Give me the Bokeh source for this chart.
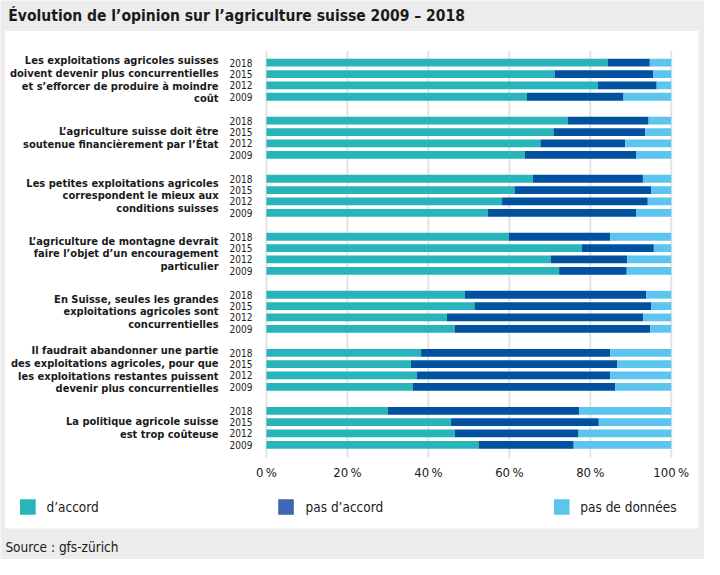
from bokeh.plotting import figure
from bokeh.models import ColumnDataSource, Range1d
from bokeh.core.properties import value
from bokeh.embed import file_html
from bokeh.resources import INLINE

# ---------------- data ----------------
title = "Évolution de l’opinion sur l’agriculture suisse 2009 – 2018"
source_note = "Source : gfs-zürich"
statements = [
    "Les exploitations agricoles suisses\ndoivent devenir plus concurrentielles\net s’efforcer de produire à moindre\ncoût",
    "L’agriculture suisse doit être\nsoutenue financièrement par l’État",
    "Les petites exploitations agricoles\ncorrespondent le mieux aux\nconditions suisses",
    "L’agriculture de montagne devrait\nfaire l’objet d’un encouragement\nparticulier",
    "En Suisse, seules les grandes\nexploitations agricoles sont\nconcurrentielles",
    "Il faudrait abandonner une partie\ndes exploitations agricoles, pour que\nles exploitations restantes puissent\ndevenir plus concurrentielles",
    "La politique agricole suisse\nest trop coûteuse",
]
years = ["2018", "2015", "2012", "2009"]
series = ["d’accord", "pas d’accord", "pas de données"]
# per statement, values for 2018, 2015, 2012, 2009 (%)
agree = [
    [84.3, 71.2, 81.9, 64.3],
    [74.4, 70.9, 67.7, 63.8],
    [65.8, 61.3, 58.2, 54.7],
    [59.9, 77.9, 70.2, 72.3],
    [49.0, 51.4, 44.6, 46.5],
    [38.2, 35.7, 37.2, 36.2],
    [30.0, 45.6, 46.5, 52.4],
]
disagree = [
    [10.4, 24.4, 14.5, 23.9],
    [20.0, 22.7, 20.9, 27.5],
    [27.2, 33.7, 36.0, 36.6],
    [25.0, 17.8, 18.9, 16.7],
    [44.8, 43.6, 48.5, 48.3],
    [46.7, 50.9, 47.7, 50.0],
    [47.3, 36.5, 30.6, 23.5],
]
nodata = [[round(100 - a - d, 1) for a, d in zip(ar, dr)] for ar, dr in zip(agree, disagree)]
ticks = [0, 20, 40, 60, 80, 100]
tick_labels = [f"{t}\u2009%" for t in ticks]

# ---------------- styles ----------------
bar_colors = ["#27b5bb", "#0051a0", "#5bc5f0"]
legend_colors = ["#27b5bb", "#3f68b2", "#5bc5f0"]
FONT = value("DejaVu Sans Condensed")
BG = "#ececec"

# layout in reference pixel space (720 x 575); x converted to percent units
PX_PER_PCT = 4.14
X0 = 272.0
def X(px):
    return (px - X0) / PX_PER_PCT

W, H = 704, 559
p = figure(width=W, height=H, output_backend="svg", toolbar_location=None,
           x_range=Range1d(X(0), X(720)), y_range=Range1d(575, 0),
           x_axis_location=None, y_axis_location=None, min_border=0)
p.outline_line_color = None
p.grid.visible = False
p.background_fill_color = BG
p.border_fill_color = BG

# white panel
p.quad(left=[X(5)], right=[X(714)], top=[31.5], bottom=[543], fill_color="white", line_color=None)

# gridlines
p.segment(x0=ticks, x1=ticks, y0=[52] * len(ticks), y1=[470] * len(ticks),
          line_color="#e3e3e3", line_width=2)

# bars
ys, yr_lab, ag, di, nd = [], [], [], [], []
group_centers = []
for g in range(len(statements)):
    base = 64 + g * 59.67
    group_centers.append(base + 1.5 * 11.67)
    for k in range(len(years)):
        ys.append(base + k * 11.67)
        yr_lab.append(years[k])
        ag.append(agree[g][k])
        di.append(disagree[g][k])
        nd.append(nodata[g][k])
src = ColumnDataSource(dict(y=ys, year=yr_lab, agree=ag, dis=di, nodata=nd))
p.hbar_stack(["agree", "dis", "nodata"], y="y", height=8, color=bar_colors,
             line_color=None, source=src)

# year labels
p.text(x=X(246), y="y", text="year", source=src, text_font=FONT, text_font_size="10px",
       text_align="center", text_baseline="middle", text_color="#222222")

# statement labels
p.text(x=[X(223)] * len(statements), y=group_centers, text=statements, text_font=FONT,
       text_font_size="11px", text_font_style="bold", text_align="right",
       text_baseline="middle", text_line_height=0.97, text_color="#1a1a1a")

# x tick labels
p.text(x=ticks, y=[485] * len(ticks), text=tick_labels, text_font=FONT, text_font_size="13px",
       text_align="center", text_baseline="middle", text_color="#1a1a1a")

# legend
leg_sq_x = [28, 292, 574]
leg_tx_x = [47, 312, 593]
p.rect(x=[X(v) for v in leg_sq_x], y=[521] * 3, width=16 / PX_PER_PCT, height=16,
       fill_color=legend_colors, line_color=None)
p.text(x=[X(v) for v in leg_tx_x], y=[521] * 3, text=series, text_font=FONT,
       text_font_size="13.5px", text_align="left", text_baseline="middle", text_color="#1a1a1a")

# title & source
p.text(x=[X(8)], y=[16], text=[title], text_font=FONT, text_font_size="15.5px",
       text_font_style="bold", text_align="left", text_baseline="middle", text_color="#1a1a1a")
p.text(x=[X(5)], y=[562], text=[source_note], text_font=FONT, text_font_size="13.5px",
       text_align="left", text_baseline="middle", text_color="#1a1a1a")

open("out.html", "w").write(file_html(p, INLINE))
